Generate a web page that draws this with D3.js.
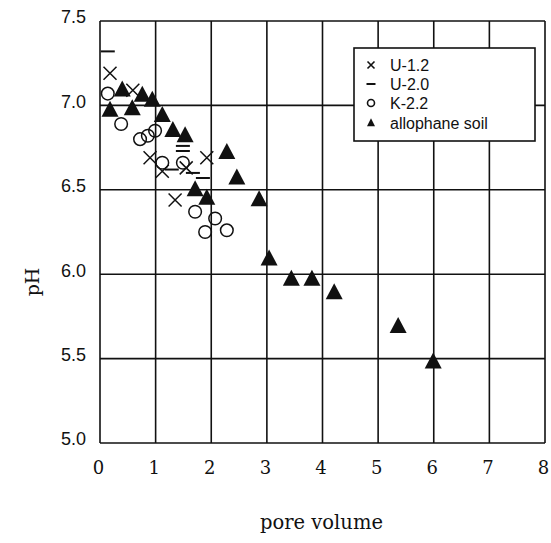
<!DOCTYPE html>
<html>
<head>
<meta charset="utf-8">
<script src="https://cdn.jsdelivr.net/npm/d3@7"></script>
<style>
  html, body { margin: 0; padding: 0; background: #fff; }
  svg { display: block; }
</style>
</head>
<body>
<svg id="chart" width="551" height="543"></svg>
<script>
// ---- data (pore volume, pH) ----
const u12X = [0.18, 0.59, 0.90, 1.12, 1.35, 1.55, 1.92];
const u12Y = [7.19, 7.09, 6.69, 6.61, 6.44, 6.63, 6.69];

const u20X = [0.14, 1.49, 1.49, 1.29, 1.67, 1.85];
const u20Y = [7.32, 6.76, 6.73, 6.62, 6.60, 6.57];

const k22X = [0.14, 0.38, 0.72, 0.86, 0.99, 1.12, 1.49, 1.71, 2.07, 1.89, 2.28];
const k22Y = [7.07, 6.89, 6.80, 6.82, 6.85, 6.66, 6.66, 6.37, 6.33, 6.25, 6.26];

const alloX = [0.18, 0.40, 0.58, 0.76, 0.94, 1.12, 1.31, 1.53, 1.71, 1.92, 2.28, 2.46, 2.86, 3.04, 3.44, 3.81, 4.21, 5.36, 5.99];
const alloY = [6.97, 7.09, 6.98, 7.06, 7.03, 6.94, 6.85, 6.82, 6.50, 6.45, 6.72, 6.57, 6.44, 6.09, 5.97, 5.97, 5.89, 5.69, 5.48];

const xTicks = [0, 1, 2, 3, 4, 5, 6, 7, 8];
const yTicks = [5.0, 5.5, 6.0, 6.5, 7.0, 7.5];
const legendLabels = ["U-1.2", "U-2.0", "K-2.2", "allophane soil"];

(function () {
// ---- layout ----
const svg = d3.select("#chart");
const pL = 100, pR = 545, pT = 21, pB = 443;
const x = d3.scaleLinear().domain([0, 8]).range([pL, pR]);
const y = d3.scaleLinear().domain([5.0, 7.5]).range([pB, pT]);

const ink = "#111";
const sans = "'Liberation Sans', Arial, sans-serif";
const serif = "'DejaVu Serif', 'Liberation Serif', serif";

// grid
const g = svg.append("g");
g.selectAll("line.vx").data(xTicks).join("line")
  .attr("x1", d => x(d)).attr("x2", d => x(d))
  .attr("y1", pT).attr("y2", pB)
  .attr("stroke", ink).attr("stroke-width", 1.6);
g.selectAll("line.hy").data(yTicks).join("line")
  .attr("x1", pL).attr("x2", pR)
  .attr("y1", d => y(d)).attr("y2", d => y(d))
  .attr("stroke", ink).attr("stroke-width", 1.6);

const xAxis = d3.axisBottom(x).tickValues(xTicks).tickSize(0).tickPadding(0).tickFormat(d3.format("d"));
svg.append("g").attr("transform", `translate(-2,${pB + 17})`).call(xAxis)
  .call(s => s.select(".domain").remove())
  .selectAll("text").attr("font-family", serif).attr("font-size", 18).attr("fill", ink).attr("dy", "0.75em");

const yAxis = d3.axisLeft(y).tickValues(yTicks).tickSize(0).tickPadding(0).tickFormat(d3.format(".1f"));
svg.append("g").attr("transform", `translate(${pL - 14},0)`).call(yAxis)
  .call(s => s.select(".domain").remove())
  .selectAll("text").attr("font-family", sans).attr("font-size", 18).attr("fill", ink).attr("dy", "0.1em");

svg.append("text").attr("x", (pL + pR) / 2 - 1).attr("y", 529)
  .attr("text-anchor", "middle").attr("font-family", serif).attr("font-size", 19.5).attr("fill", ink)
  .text("pore volume");
svg.append("text").attr("transform", "translate(39,282) rotate(-90)")
  .attr("text-anchor", "middle").attr("font-family", serif).attr("font-size", 19).attr("fill", ink)
  .text("pH");

// markers
const pts = (xs, ys) => xs.map((v, i) => ({ x: v, y: ys[i] }));
const m = svg.append("g");

function crossPath(cx, cy, r) {
  return `M${cx - r},${cy - r}L${cx + r},${cy + r}M${cx - r},${cy + r}L${cx + r},${cy - r}`;
}
function triPath(cx, cy, w, h) {
  return `M${cx},${cy - h * 0.6}L${cx + w / 2},${cy + h * 0.4}L${cx - w / 2},${cy + h * 0.4}Z`;
}

m.selectAll("path.alo").data(pts(alloX, alloY)).join("path")
  .attr("d", d => triPath(x(d.x), y(d.y), 17, 16)).attr("fill", ink);

m.selectAll("circle.k").data(pts(k22X, k22Y)).join("circle")
  .attr("cx", d => x(d.x)).attr("cy", d => y(d.y)).attr("r", 6.3)
  .attr("fill", "none").attr("stroke", ink).attr("stroke-width", 1.5);

m.selectAll("path.u12").data(pts(u12X, u12Y)).join("path")
  .attr("d", d => crossPath(x(d.x), y(d.y), 6.5)).attr("stroke", ink).attr("stroke-width", 1.5).attr("fill", "none");

m.selectAll("line.u20").data(pts(u20X, u20Y)).join("line")
  .attr("x1", d => x(d.x) - 7).attr("x2", d => x(d.x) + 7)
  .attr("y1", d => y(d.y)).attr("y2", d => y(d.y))
  .attr("stroke", ink).attr("stroke-width", 2);

// legend
const lg = svg.append("g");
lg.append("rect").attr("x", 354).attr("y", 48).attr("width", 181).attr("height", 93)
  .attr("fill", "#fff").attr("stroke", ink).attr("stroke-width", 1.6);
const ly = [65, 84, 103, 123];
const mx = 371;
lg.append("path").attr("d", crossPath(mx, ly[0], 3.5)).attr("stroke", ink).attr("stroke-width", 1.6);
lg.append("line").attr("x1", mx - 4.5).attr("x2", mx + 4.5).attr("y1", ly[1]).attr("y2", ly[1]).attr("stroke", ink).attr("stroke-width", 2);
lg.append("circle").attr("cx", mx).attr("cy", ly[2]).attr("r", 3.5).attr("fill", "none").attr("stroke", ink).attr("stroke-width", 1.6);
lg.append("path").attr("d", triPath(mx, ly[3], 8, 8)).attr("fill", ink);
lg.selectAll("text").data(legendLabels).join("text")
  .attr("x", 390).attr("y", (d, i) => ly[i]).attr("dy", "0.36em")
  .attr("font-family", sans).attr("font-size", 16).attr("fill", ink)
  .text(d => d);
})();
</script>
</body>
</html>
